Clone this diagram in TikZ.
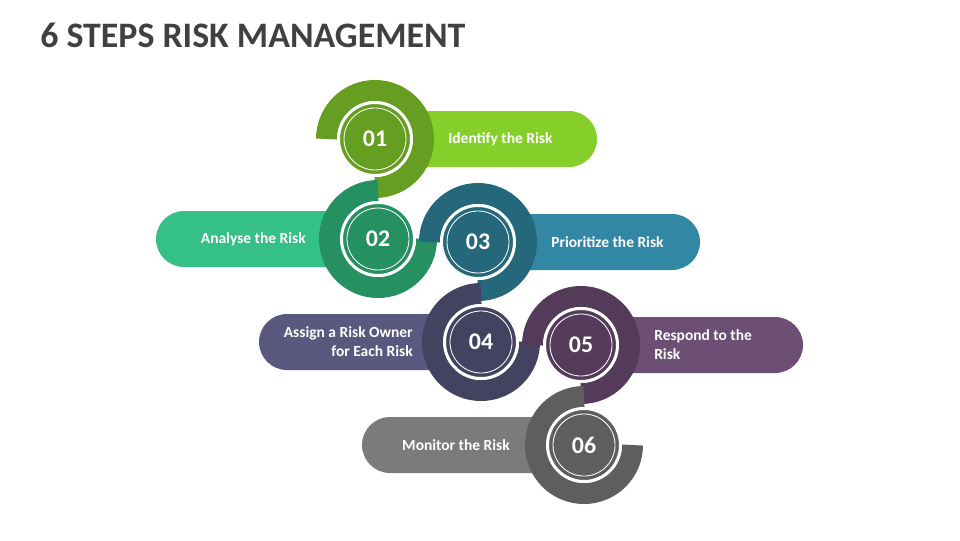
\documentclass[tikz,border=0pt]{standalone}
\usepackage{fontspec}
\setmainfont{Carlito}
\usepackage{xcolor}
\usetikzlibrary{positioning, backgrounds}

\definecolor{titlegray}{HTML}{404040}
\definecolor{d1}{HTML}{669E21}
\definecolor{p1}{HTML}{86CE2A}
\definecolor{d2}{HTML}{259060}
\definecolor{p2}{HTML}{35C185}
\definecolor{d3}{HTML}{25687B}
\definecolor{p3}{HTML}{3287A5}
\definecolor{d4}{HTML}{444261}
\definecolor{p4}{HTML}{5B5880}
\definecolor{d5}{HTML}{533B59}
\definecolor{p5}{HTML}{6D4E74}
\definecolor{d6}{HTML}{5E5E5E}
\definecolor{p6}{HTML}{7B7B7B}

\begin{document}
\begin{tikzpicture}[on grid, node distance=2.5cm,
    disc/.style={circle, draw=white, line width=0.075cm, minimum size=1.825cm, inner sep=0pt,
        text=white, font=\bfseries\fontsize{17}{20}\selectfont,
        path picture={\draw[white, line width=0.6pt] (path picture bounding box.center) circle[radius=0.775cm];}},
    ring/.style={line width=0.525cm},
    pill/.style={rounded corners=0.7cm},
    lbl/.style={text=white, inner sep=0pt, font=\bfseries\fontsize{11}{13.5}\selectfont}]
    \useasboundingbox (0,0) rectangle (24,-13.5);

    \node[anchor=base west, inner sep=0pt, text=titlegray, font=\bfseries\fontsize{25.5}{30}\selectfont] (title) at (1,-1.175) {6 STEPS RISK MANAGEMENT};

    \node[disc, fill=d1] (s1) at (9.375,-3.475) {01};
    \node[disc, fill=d2] (s2) [below=of s1, xshift=0.075cm] {02};
    \node[disc, fill=d3] (s3) [right=of s2, yshift=-0.075cm] {03};
    \node[disc, fill=d4] (s4) [below=of s3, xshift=0.075cm] {04};
    \node[disc, fill=d5] (s5) [right=of s4, yshift=-0.075cm] {05};
    \node[disc, fill=d6] (s6) [below=of s5, xshift=0.075cm] {06};

    \node[lbl, anchor=west] (t1) at ([xshift=1.825cm]s1.center) {Identify the Risk};
    \node[lbl, anchor=east] (t2) at ([xshift=-1.8cm]s2.center) {Analyse the Risk};
    \node[lbl, anchor=west] (t3) at ([xshift=1.825cm]s3.center) {Prioritize the Risk};
    \node[lbl, anchor=east, align=right] (t4) at ([xshift=-1.7cm]s4.center) {Assign a Risk Owner\\for Each Risk};
    \node[lbl, anchor=west, align=left] (t5) at ([xshift=1.825cm]s5.center) {Respond to the\\Risk};
    \node[lbl, anchor=east] (t6) at ([xshift=-1.85cm]s6.center) {Monitor the Risk};

    \begin{scope}[on background layer]
        \fill[p1, pill] ([yshift=-0.7cm]s1.center) rectangle ++(5.55,1.4);
        \draw[d1, ring] (s1.center) ++(180:1.2125) arc[start angle=180, end angle=-90, radius=1.2125cm];
        \fill[p2, pill] ([yshift=-0.7cm]s2.center) rectangle ++(-5.55,1.4);
        \draw[d2, ring] (s2.center) ++(90:1.2125) arc[start angle=90, end angle=360, radius=1.2125cm];
        \fill[p3, pill] ([yshift=-0.7cm]s3.center) rectangle ++(5.55,1.4);
        \draw[d3, ring] (s3.center) ++(180:1.2125) arc[start angle=180, end angle=-90, radius=1.2125cm];
        \fill[p4, pill] ([yshift=-0.7cm]s4.center) rectangle ++(-5.55,1.4);
        \draw[d4, ring] (s4.center) ++(90:1.2125) arc[start angle=90, end angle=360, radius=1.2125cm];
        \fill[p5, pill] ([yshift=-0.7cm]s5.center) rectangle ++(5.55,1.4);
        \draw[d5, ring] (s5.center) ++(180:1.2125) arc[start angle=180, end angle=-90, radius=1.2125cm];
        \fill[p6, pill] ([yshift=-0.7cm]s6.center) rectangle ++(-5.55,1.4);
        \draw[d6, ring] (s6.center) ++(90:1.2125) arc[start angle=90, end angle=360, radius=1.2125cm];
    \end{scope}
\end{tikzpicture}
\end{document}
